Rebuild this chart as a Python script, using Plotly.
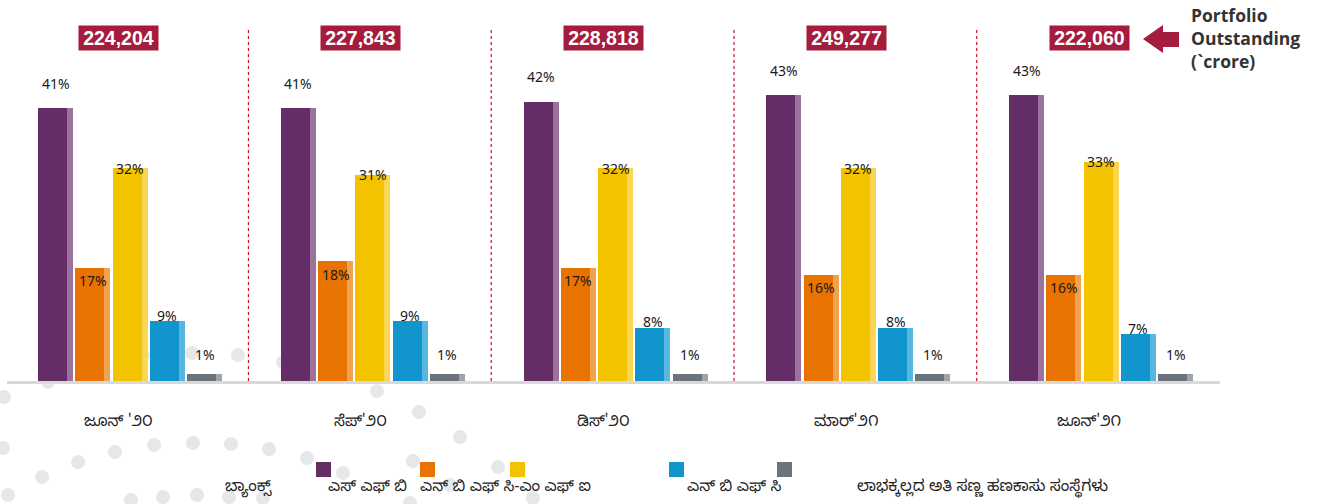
import plotly.graph_objects as go

# ---------------- data ----------------
periods = ["ಜೂನ್ '೨೦", "ಸೆಪ್'೨೦", "ಡಿಸ್'೨೦", "ಮಾರ್'೨೧", "ಜೂನ್'೨೧"]
portfolio_crore = [224204, 227843, 228818, 249277, 222060]
series_names = [
    "ಬ್ಯಾಂಕ್ಸ್",
    "ಎಸ್ ಎಫ್ ಬಿ",
    "ಎನ್ ಬಿ ಎಫ್ ಸಿ-ಎಂ ಎಫ್ ಐ",
    "ಎನ್ ಬಿ ಎಫ್ ಸಿ",
    "ಲಾಭಕ್ಕಲ್ಲದ ಅತಿ ಸಣ್ಣ ಹಣಕಾಸು ಸಂಸ್ಥೆಗಳು",
]
banks = [41, 41, 42, 43, 43]
sfb = [17, 18, 17, 16, 16]
nbfc_mfi = [32, 31, 32, 32, 33]
nbfc = [9, 9, 8, 8, 7]
not_for_profit = [1, 1, 1, 1, 1]
series_values = [banks, sfb, nbfc_mfi, nbfc, not_for_profit]
side_title = "Portfolio<br>Outstanding<br>(`crore)"

# ---------------- styles ----------------
PAGE_OFF = 0                      # body margin removed via post_script
W, H = 1334 - PAGE_OFF, 504 - PAGE_OFF
BASE_PAGE_Y = 381                 # baseline (page px)
LEFT_PAGE_X, RIGHT_PAGE_X = 7, 1220
ML = LEFT_PAGE_X - PAGE_OFF
MR = W - (RIGHT_PAGE_X - PAGE_OFF)
MT = 0
MB = H - (BASE_PAGE_Y - PAGE_OFF)
PW, PH = W - ML - MR, H - MT - MB
main_colors = ["#652D68", "#E97300", "#F4C300", "#1096CC", "#6B747C"]
side_colors = ["#9A729C", "#F0A24F", "#FAD652", "#58B7E0", "#9EA4AA"]
label_shift = [25, -13, 0, 6, 20]  # px of label centre above bar top
GROUP_PX = 242.75
FIRST_GROUP_PAGE_X = 130
BAR_PITCH = 37.25 / GROUP_PX
BAR_W = 35 / GROUP_PX
SIDE_W = 6 / GROUP_PX
PX_PER_PCT = 6.65
x_lo = (LEFT_PAGE_X - FIRST_GROUP_PAGE_X) / GROUP_PX
x_hi = (RIGHT_PAGE_X - FIRST_GROUP_PAGE_X) / GROUP_PX
y_hi = PH / PX_PER_PCT
KN_FONT = "Noto Sans Kannada, Noto Sans, sans-serif"


def px_x(px):
    return (px - PAGE_OFF - ML) / PW


def px_y(py):
    return (MT + PH - (py - PAGE_OFF)) / PH


fig = go.Figure()
annotations = []
shapes = []

# decorative background dots (page px)
dot_centers = [(48, 382), (4, 397), (143, 355), (192, 353), (238, 355), (283, 362),
               (3, 448), (78, 462), (115, 452), (154, 445), (193, 443), (231, 444),
               (269, 449), (307, 458), (42, 477), (8, 495), (131, 500), (163, 497),
               (197, 495), (229, 497), (263, 498), (377, 391), (419, 412), (460, 437),
               (343, 473), (413, 461), (498, 467), (450, 485), (533, 498), (410, 503)]
for cx, cy in dot_centers:
    shapes.append(dict(type="circle", xref="paper", yref="paper", layer="below",
                       x0=px_x(cx - 7), x1=px_x(cx + 7), y0=px_y(cy + 7), y1=px_y(cy - 7),
                       fillcolor="#E6E7E8", line=dict(width=0)))

groups = list(range(len(periods)))
for j, (name, vals) in enumerate(zip(series_names, series_values)):
    centers = [g + (j - 2) * BAR_PITCH for g in groups]
    fig.add_trace(go.Bar(x=centers, y=vals, width=BAR_W, name=name,
                         marker=dict(color=side_colors[j], line=dict(width=0)),
                         showlegend=False, hoverinfo="skip"))
    fig.add_trace(go.Bar(x=[c - SIDE_W / 2 for c in centers], y=vals, width=BAR_W - SIDE_W,
                         name=name, marker=dict(color=main_colors[j], line=dict(width=0)),
                         showlegend=False, hovertemplate=name + ": %{y}%<extra></extra>"))
    for c, v in zip(centers, vals):
        annotations.append(dict(x=c, y=v, xref="x", yref="y", text=f"{v}%",
                                showarrow=False, yanchor="middle", yshift=label_shift[j],
                                font=dict(family="Noto Sans", size=14, color="#1A1A1A")))

# period labels and totals
for g, (p, tot) in enumerate(zip(periods, portfolio_crore)):
    annotations.append(dict(x=g, y=0, xref="x", yref="y", text=p, showarrow=False,
                            yanchor="middle", yshift=-42, xshift=-12,
                            font=dict(family=KN_FONT, size=15.5, color="#222222")))
    annotations.append(dict(x=g, y=px_y(38), xref="x", yref="paper", text=f"<b>{tot:,}</b>",
                            showarrow=False, yanchor="middle", xshift=-12,
                            bgcolor="#A51C3C", width=79, height=24, borderpad=0,
                            font=dict(family="Liberation Sans", size=19.5, color="white")))

# dotted separators
for g in groups[:-1]:
    shapes.append(dict(type="line", xref="x", yref="y", x0=g + 0.488, x1=g + 0.488,
                       y0=0, y1=(BASE_PAGE_Y - 28) / PX_PER_PCT,
                       line=dict(color="#C8102E", width=1.2, dash="dot")))

# arrow + side title (page px)
arrow_pts = [(1143, 39), (1163, 25), (1163, 32), (1179, 32), (1179, 47), (1163, 47), (1163, 53)]
path = "M " + " L ".join(f"{px_x(a):.5f},{px_y(b):.5f}" for a, b in arrow_pts) + " Z"
shapes.append(dict(type="path", xref="paper", yref="paper", path=path,
                   fillcolor="#A51C3C", line=dict(width=0)))
annotations.append(dict(x=px_x(1189), y=px_y(38), xref="paper", yref="paper",
                        text="<b>" + side_title + "</b>", showarrow=False,
                        xanchor="left", yanchor="middle", align="left",
                        font=dict(family="Open Sans", size=17.5, color="#333333")))

# manual legend (page px)
legend_sq_left = [316, 420, 510, 669, 777]
for j, lx in enumerate(legend_sq_left):
    shapes.append(dict(type="rect", xref="paper", yref="paper",
                       x0=px_x(lx), x1=px_x(lx + 15), y0=px_y(477), y1=px_y(462),
                       fillcolor=main_colors[j], line=dict(width=0)))
legend_text_left = [223, 326, 418, 685, 855]
for name, tx in zip(series_names, legend_text_left):
    annotations.append(dict(x=px_x(tx), y=px_y(488), xref="paper", yref="paper",
                            text=name, showarrow=False, xanchor="left", yanchor="middle",
                            font=dict(family=KN_FONT, size=15.5, color="#222222")))

fig.update_layout(
    width=W, height=H, autosize=False,
    margin=dict(l=ML, r=MR, t=MT, b=MB, pad=0),
    paper_bgcolor="white", plot_bgcolor="rgba(0,0,0,0)",
    barmode="overlay", bargap=0,
    xaxis=dict(range=[x_lo, x_hi], showticklabels=False, showgrid=False, zeroline=False,
               showline=True, linecolor="#D9D9D9", linewidth=3, ticks="", fixedrange=True),
    yaxis=dict(range=[0, y_hi], visible=False, showgrid=False, zeroline=False, fixedrange=True),
    annotations=annotations, shapes=shapes,
)

fig.write_html("out.html", config={"displayModeBar": False},
               post_script="document.body.style.margin='0';")
